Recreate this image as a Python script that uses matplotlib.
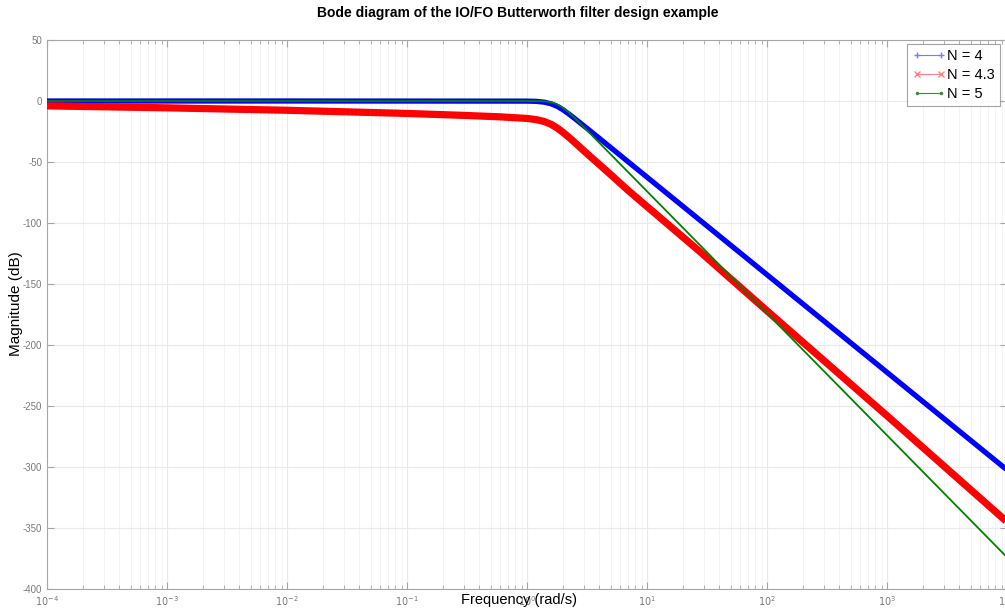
import numpy as np
import matplotlib
matplotlib.use('Agg')
import matplotlib.pyplot as plt
from matplotlib.lines import Line2D
from matplotlib.ticker import LogLocator, FixedLocator

plt.rcParams['font.family'] = ['Liberation Sans', 'DejaVu Sans']

# values (frequency in rad/s, magnitude in dB)
w_n4 = [1e-4, 1e-2, 1.0, 1.2, 1.4, 1.6, 1.8, 2.0, 2.3, 2.7, 3.2, 4.0, 5.0, 10, 100, 1000, 1e4]
mag_n4 = [0, 0, -0.1, -0.3, -1.0, -2.4, -4.6, -7.3, -11.6, -17.0, -22.8, -30.5, -38.3,
          -62.4, -142.4, -222.4, -302.4]

w_n43 = [1e-4, 1e-3, 1e-2, 1e-1, 0.3, 0.6, 1.0, 1.2, 1.4, 1.6, 1.8, 2.0, 2.3, 2.7, 3.2,
         4.0, 5.0, 7.0, 10, 28, 100, 1000, 1e4]
mag_n43 = [-4.0, -5.6, -7.6, -10.2, -11.8, -13.0, -14.3, -15.3, -16.9, -19.3, -22.4,
           -25.8, -30.8, -37.0, -43.6, -52.0, -60.5, -73.5, -86.5, -124, -172, -258, -345]

w_n5 = [1e-4, 1e-2, 1.0, 1.3, 1.5, 1.7, 1.9, 2.1, 2.4, 2.8, 3.3, 4.0, 5.0, 10, 100, 1000, 1e4]
mag_n5 = [0, 0, -0.01, -0.15, -0.6, -1.8, -4.1, -7.1, -12.3, -18.8, -25.9, -34.2, -43.9,
          -74, -174, -274, -374]

labels = ['N = 4', 'N = 4.3', 'N = 5']
decades = [1e-4, 1e-3, 1e-2, 1e-1, 1e0, 1e1, 1e2, 1e3, 1e4]
yticks = list(range(-400, 51, 50))

fig = plt.figure(figsize=(10.05, 6.11), dpi=100)
ax = fig.add_axes([47/1005, 1 - 589/611, 960/1005, 549/611])

ax.plot(w_n4, mag_n4, color='#0000ff', lw=3.8, solid_capstyle='butt', zorder=3)
ax.plot(w_n43, mag_n43, color='#ff0000', lw=5.2, solid_capstyle='butt', zorder=4)
ax.plot(w_n5, mag_n5, color='#008000', lw=1.3, zorder=5)

ax.set_xscale('log')
ax.set_xlim(1e-4, 1e4)
ax.set_ylim(-400, 50)
ax.xaxis.set_major_locator(FixedLocator(decades))
ax.xaxis.set_minor_locator(LogLocator(base=10, subs=np.arange(2, 10), numticks=20))
ax.set_xticklabels([r'$10^{%d}$' % int(np.log10(d)) for d in decades])
ax.set_yticks(yticks)
ax.set_yticklabels([str(v) for v in yticks])

ax.grid(True, which='major', color='#eaeaea', lw=0.8)
ax.grid(True, which='minor', axis='x', color='#f3f3f3', lw=0.6)
ax.set_axisbelow(True)

for s in ax.spines.values():
    s.set_color('#a6a6a6')
    s.set_linewidth(0.8)
ax.tick_params(which='both', direction='in', top=True, right=True,
               colors='#a6a6a6', labelcolor='#7a7a7a', labelsize=7)
ax.tick_params(which='major', length=5)
ax.tick_params(which='minor', length=3)
ax.tick_params(axis='x', pad=4)

ax.set_xlabel('Frequency (rad/s)', fontsize=10.5)
ax.xaxis.set_label_coords(0.492, -0.008)
fig.text(16/1005, 1 - 304/611, 'Magnitude (dB)', rotation=90, fontsize=11,
         ha='center', va='center')
fig.text(518/1005, 1 - 13/611, 'Bode diagram of the IO/FO Butterworth filter design example',
         fontsize=10, fontweight='bold', ha='center', va='center')

handles = [
    Line2D([], [], color='#7a7aff', lw=0.8, marker='+', markersize=5),
    Line2D([], [], color='#ff8080', lw=0.8, marker='x', markersize=4),
    Line2D([], [], color='#3a8a3a', lw=0.8, marker='.', markersize=3),
]
leg = ax.legend(handles, labels, loc='upper right',
                bbox_to_anchor=(1000/1005, 1 - 44/611), bbox_transform=fig.transFigure,
                numpoints=2, fontsize=10.5, frameon=True, fancybox=False,
                handlelength=2.3, handletextpad=0.1, labelspacing=0.35,
                borderpad=0.35, borderaxespad=0)
leg.get_frame().set_edgecolor('#8c8c8c')
leg.get_frame().set_linewidth(0.8)
leg.set_zorder(10)

fig.savefig('out.png', dpi=100)
